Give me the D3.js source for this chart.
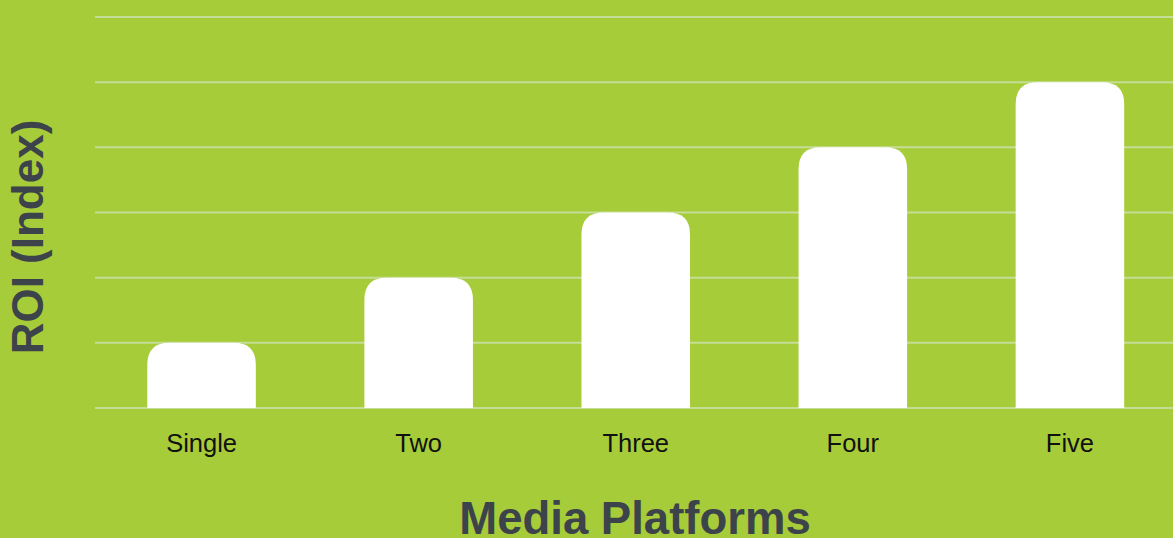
<!DOCTYPE html>
<html>
<head>
<meta charset="utf-8">
<script src="https://cdn.jsdelivr.net/npm/d3@7"></script>
<style>
  body { margin: 0; background: #a6cc39; }
  svg { display: block; }
</style>
</head>
<body>
<svg id="chart" width="1173" height="538"></svg>
<script>
const categories = ['Single', 'Two', 'Three', 'Four', 'Five'];
const values = [1, 2, 3, 4, 5];
const yTicks = [0, 1, 2, 3, 4, 5, 6];

const svg = d3.select('#chart');
const width = 1173, height = 538;

svg.append('rect').attr('width', width).attr('height', height).attr('fill', '#a6cc39');

const x = d3.scaleBand()
  .domain(categories)
  .range([96.5, 1175])
  .paddingInner(0.5)
  .paddingOuter(0.234);

const y = d3.scaleLinear().domain([0, 6]).range([408, 17]);

// gridlines
svg.append('g')
  .selectAll('line')
  .data(yTicks)
  .join('line')
  .attr('x1', 95)
  .attr('x2', width)
  .attr('y1', d => y(d))
  .attr('y2', d => y(d))
  .attr('stroke', '#c6dd98')
  .attr('stroke-width', 2);

// bars, top corners rounded
function topRounded(x0, y0, w, h, r) {
  r = Math.min(r, w / 2, h);
  return `M${x0},${y0 + h}V${y0 + r}Q${x0},${y0} ${x0 + r},${y0}H${x0 + w - r}Q${x0 + w},${y0} ${x0 + w},${y0 + r}V${y0 + h}Z`;
}

svg.append('g')
  .selectAll('path')
  .data(categories.map((c, i) => ({ c, v: values[i] })))
  .join('path')
  .attr('d', d => topRounded(x(d.c), y(d.v), x.bandwidth(), y(0) - y(d.v), 22))
  .attr('fill', '#ffffff');

// category labels
svg.append('g')
  .selectAll('text')
  .data(categories)
  .join('text')
  .attr('x', d => x(d) + x.bandwidth() / 2)
  .attr('y', 452)
  .attr('text-anchor', 'middle')
  .attr('font-family', 'Liberation Sans, Arial, sans-serif')
  .attr('font-size', 25.5)
  .attr('fill', '#111')
  .text(d => d);

// axis titles
svg.append('text')
  .attr('x', 635)
  .attr('y', 534)
  .attr('text-anchor', 'middle')
  .attr('font-family', 'Liberation Sans, Arial, sans-serif')
  .attr('font-weight', 'bold')
  .attr('font-size', 45.5)
  .attr('fill', '#3d434a')
  .text('Media Platforms');

svg.append('text')
  .attr('transform', 'translate(43,237) rotate(-90)')
  .attr('text-anchor', 'middle')
  .attr('font-family', 'Liberation Sans, Arial, sans-serif')
  .attr('font-weight', 'bold')
  .attr('font-size', 44)
  .attr('fill', '#3d434a')
  .text('ROI (Index)');
</script>
</body>
</html>
